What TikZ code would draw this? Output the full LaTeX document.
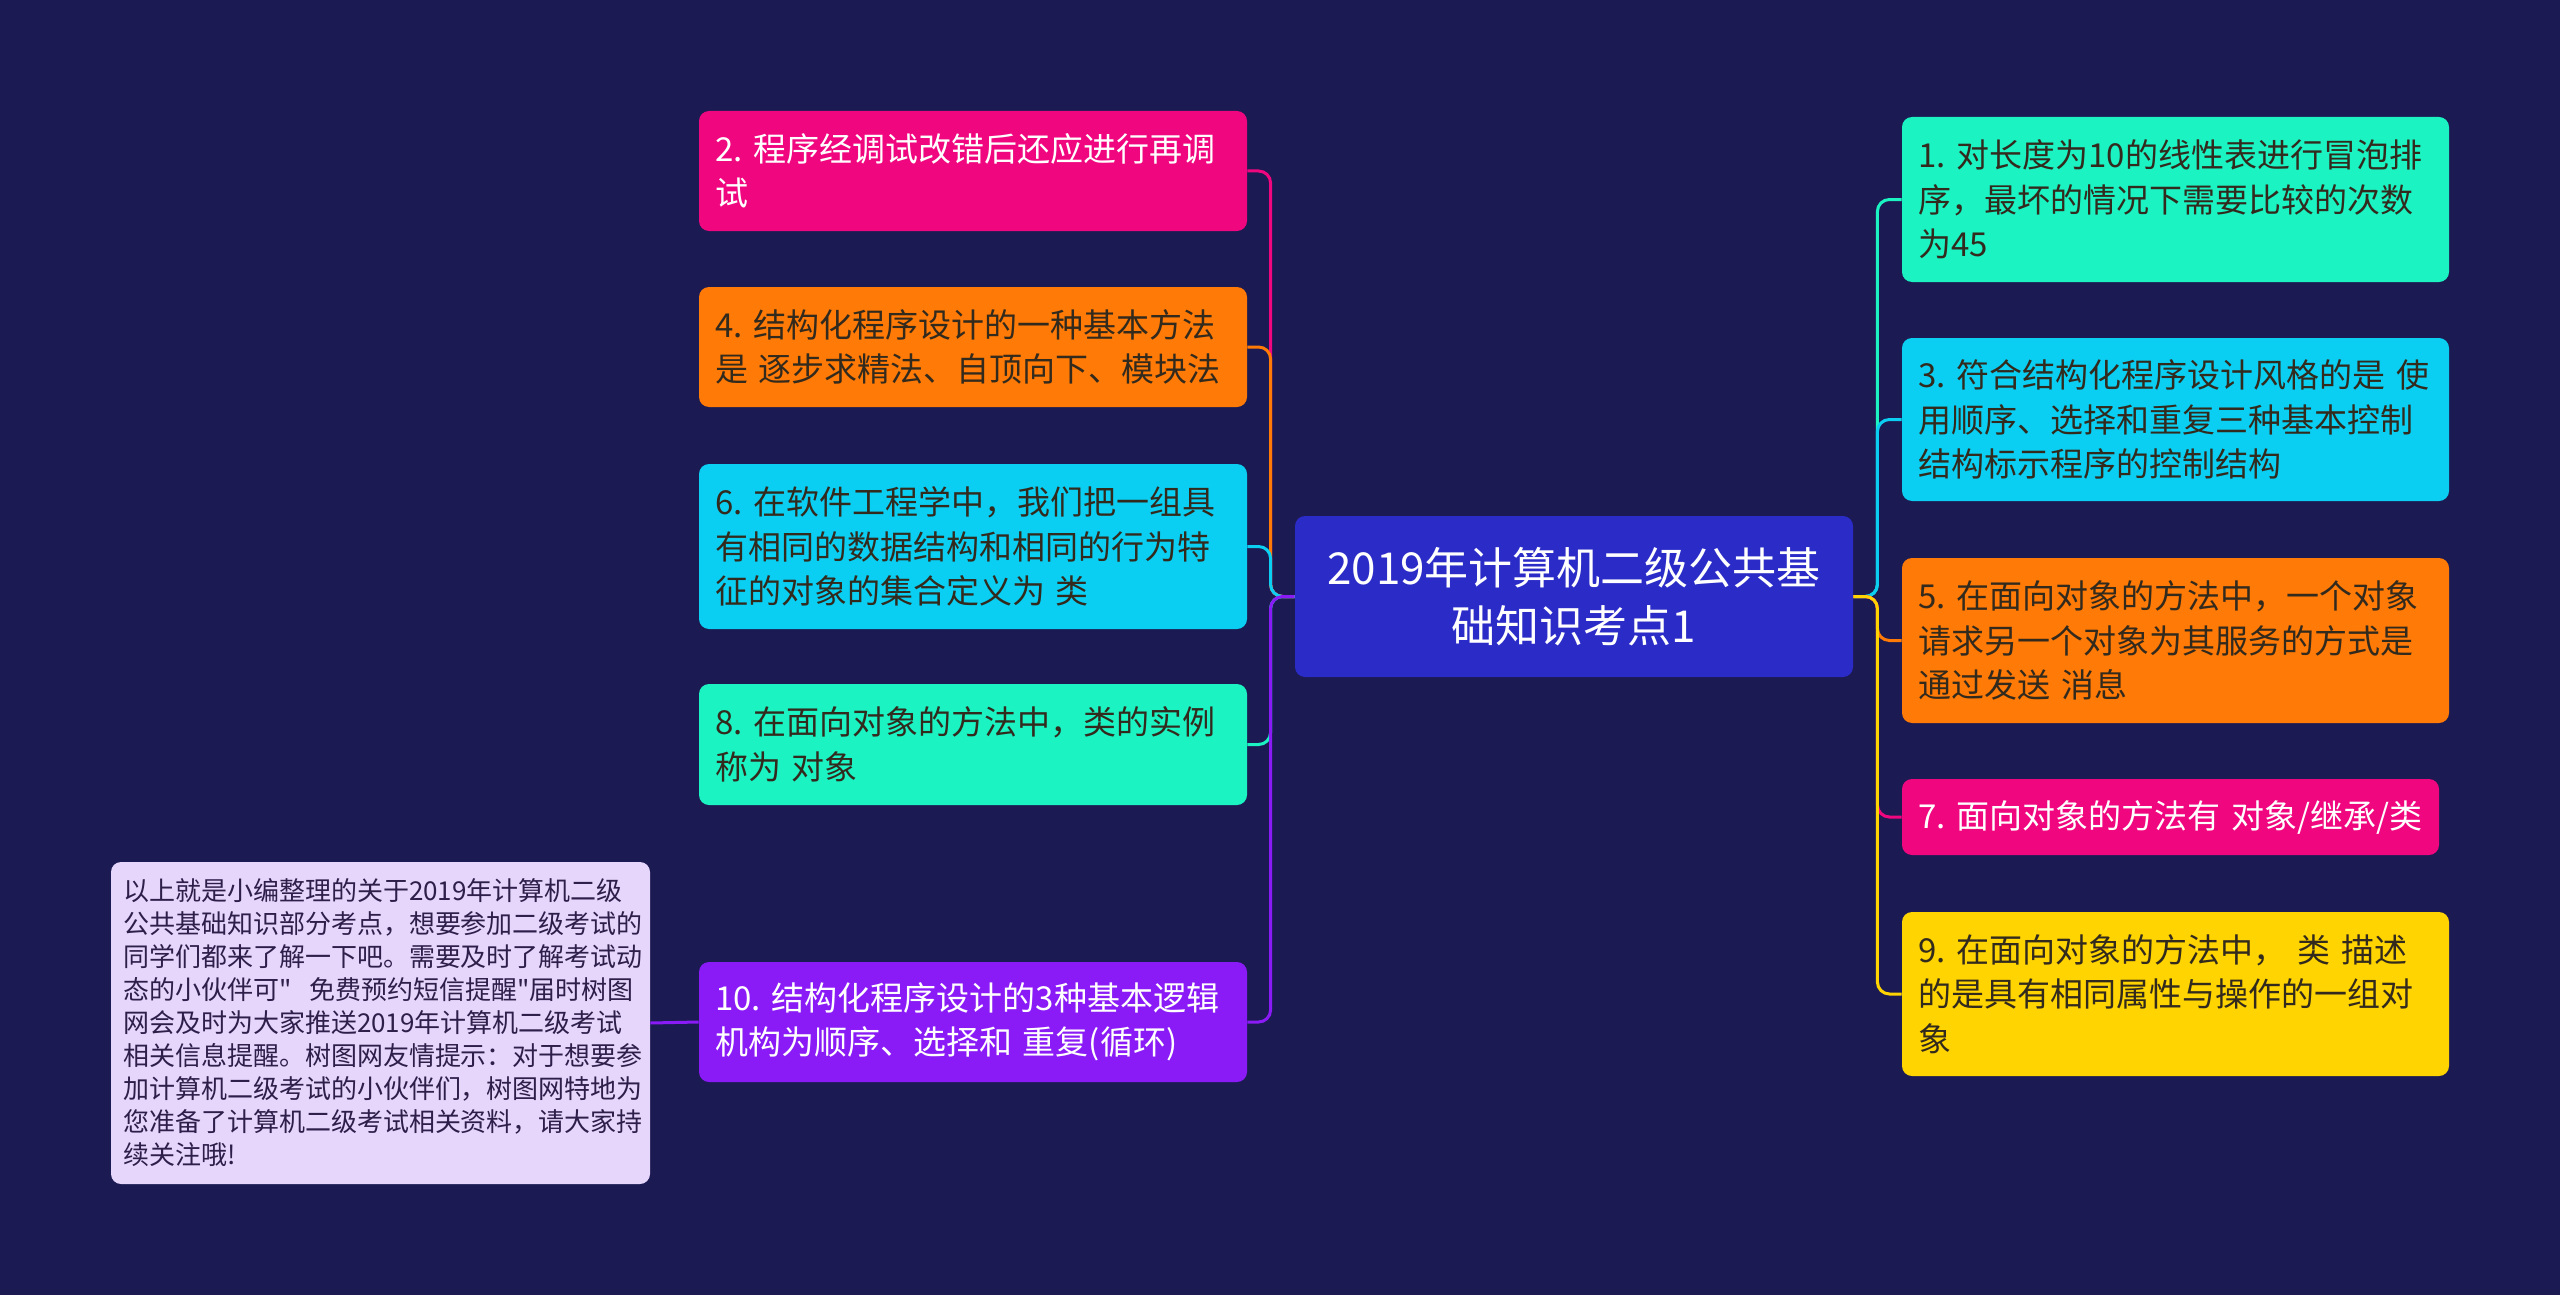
\documentclass[tikz,border=0pt]{standalone}
\usepackage{fontspec}
\setmainfont{Noto Sans CJK SC}[Ligatures=TeXOff]
\definecolor{bg}{HTML}{1B1A52}
\definecolor{pinkc}{HTML}{F0077F}
\definecolor{orangec}{HTML}{FF7A06}
\definecolor{cyanc}{HTML}{0BCFF2}
\definecolor{aquac}{HTML}{1BF3C3}
\definecolor{purplec}{HTML}{8A1AF6}
\definecolor{yellowc}{HTML}{FFD400}
\definecolor{centerc}{HTML}{2B2BC8}
\definecolor{notec}{HTML}{E6D6FC}
\definecolor{darktext}{HTML}{332A1E}
\definecolor{notetext}{HTML}{2D1F4A}
\begin{document}
\begin{tikzpicture}[x=0.5pt,y=-0.5pt,
  box/.style={rectangle, rounded corners=5pt, inner xsep=8pt, inner ysep=0pt,
    align=left, font=\fontsize{16.5pt}{22.2pt}\selectfont},
  lbox/.style={box, text width=258pt},
  rbox/.style={box, text width=257.5pt},
  centerbox/.style={rectangle, rounded corners=5pt, fill=centerc, text=white,
    inner sep=0pt, minimum width=279pt, minimum height=80.5pt, align=center,
    font=\fontsize{22pt}{29pt}\selectfont},
  notebox/.style={rectangle, rounded corners=5pt, fill=notec, text=notetext,
    inner xsep=6pt, inner ysep=0pt, text width=257.5pt, minimum height=161pt,
    align=left, font=\fontsize{13pt}{16.5pt}\selectfont},
  conn/.style={line width=1.5pt, rounded corners=6pt}]
\fill[bg] (0,0) rectangle (2560,1295);
\useasboundingbox (0,0) rectangle (2560,1295);

% centre
\node[centerbox] (C) at (1574,596.5) {2019年计算机二级公共基\\础知识考点1};

% left boxes
\node[lbox, fill=pinkc, text=white, minimum height=60pt] (b2) at (973,171)
  {2.~程序经调试改错后还应进行再调\\试};
\node[lbox, fill=orangec, text=darktext, minimum height=60pt] (b4) at (973,347)
  {4.~结构化程序设计的一种基本方法\\是~逐步求精法、自顶向下、模块法};
\node[lbox, fill=cyanc, text=darktext, minimum height=82.5pt] (b6) at (973,546.5)
  {6.~在软件工程学中，我们把一组具\\有相同的数据结构和相同的行为特\\征的对象的集合定义为~类};
\node[lbox, fill=aquac, text=darktext, minimum height=60.5pt] (b8) at (973,744.5)
  {8.~在面向对象的方法中，类的实例\\称为~对象};
\node[lbox, fill=purplec, text=white, minimum height=60pt] (b10) at (973,1022)
  {10.~结构化程序设计的3种基本逻辑\\机构为顺序、选择和~重复(循环)};

% note
\node[notebox] (note) at (380.5,1023)
  {以上就是小编整理的关于2019年计算机二级\\公共基础知识部分考点，想要参加二级考试的\\同学们都来了解一下吧。需要及时了解考试动\\态的小伙伴可"\nobreak\hspace{9pt}\nobreak 免费预约短信提醒"届时树图\\网会及时为大家推送2019年计算机二级考试\\相关信息提醒。树图网友情提示：对于想要参\\加计算机二级考试的小伙伴们，树图网特地为\\您准备了计算机二级考试相关资料，请大家持\\续关注哦!};

% right boxes
\node[rbox, fill=aquac, text=darktext, minimum height=82.5pt] (r1) at (2175.5,199.5)
  {1.~对长度为10的线性表进行冒泡排\\序，最坏的情况下需要比较的次数\\为45};
\node[rbox, fill=cyanc, text=darktext, minimum height=81.5pt] (r3) at (2175.5,419.5)
  {3.~符合结构化程序设计风格的是~使\\用顺序、选择和重复三种基本控制\\结构标示程序的控制结构};
\node[rbox, fill=orangec, text=darktext, minimum height=82.5pt] (r5) at (2175.5,640.5)
  {5.~在面向对象的方法中，一个对象\\请求另一个对象为其服务的方式是\\通过发送~消息};
\node[box, fill=pinkc, text=white, text width=252.5pt, minimum height=38pt] (r7) at (2170.5,817)
  {7.~面向对象的方法有~对象/继承/类};
\node[rbox, fill=yellowc, text=darktext, minimum height=82pt] (r9) at (2175.5,994)
  {9.~在面向对象的方法中，~类~描述\\的是具有相同属性与操作的一组对\\象};

% left connectors
\draw[conn, pinkc]   (C.west) -- ++(-24,0) |- (b2.east);
\draw[conn, orangec] (C.west) -- ++(-24,0) |- (b4.east);
\draw[conn, cyanc]   (C.west) -- ++(-24,0) |- (b6.east);
\draw[conn, aquac]   (C.west) -- ++(-24,0) |- (b8.east);
\draw[conn, purplec] (C.west) -- ++(-24,0) |- (b10.east);
\draw[conn, purplec] (note.east) -- (b10.west);

% right connectors
\draw[conn, aquac]   (C.east) -- ++(24,0) |- (r1.west);
\draw[conn, cyanc]   (C.east) -- ++(24,0) |- (r3.west);
\draw[conn, orangec] (C.east) -- ++(24,0) |- (r5.west);
\draw[conn, pinkc]   (C.east) -- ++(24,0) |- (r7.west);
\draw[conn, yellowc] (C.east) -- ++(24,0) |- (r9.west);
\end{tikzpicture}
\end{document}
